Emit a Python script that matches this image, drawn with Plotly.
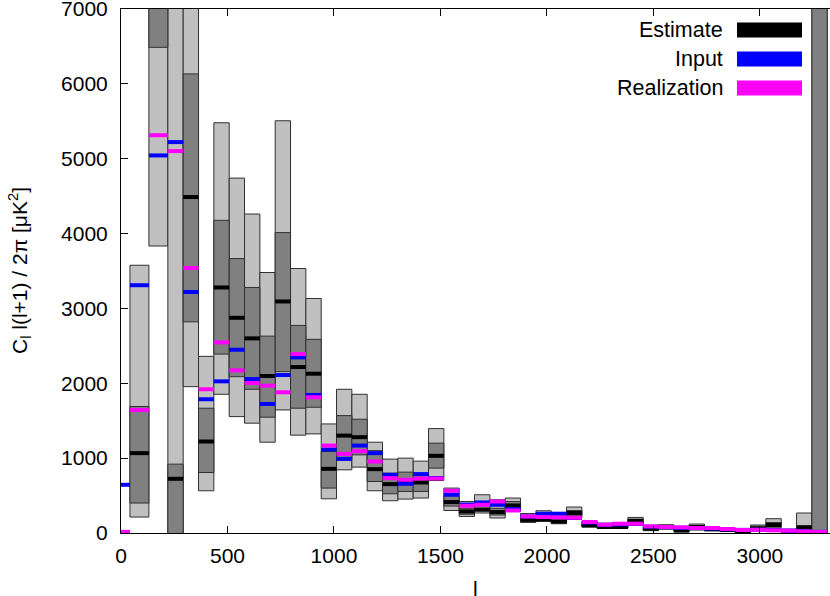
import plotly.graph_objects as go

# band edges in l (46 bands)
l_edges = [0, 42, 131, 220, 292, 364, 436, 508, 580, 652, 724, 796, 868, 940,
           1012, 1084, 1156, 1228, 1300, 1372, 1444, 1516, 1588, 1660, 1732,
           1804, 1876, 1948, 2020, 2092, 2164, 2236, 2308, 2380, 2452, 2524,
           2596, 2668, 2740, 2812, 2884, 2956, 3028, 3100, 3172, 3244, 3316]

estimate = [None, 1067, 8000, 724, 4488, 1222, 3280, 2875, 2600, 2097, 3093, 2217,
            2128, 857, 1301, 1280, 853, 653, 700, 675, 1031, 413, 288, 311, 280,
            368, 177, 177, 155, 267, 101, 80, 80, 164, 60, 80, 31, 80, 50, 40, 13,
            60, 107, 25, 70, None]
inp = [644, 3310, 5044, 5222, 3220, 1787, 2026, 2448, 2057, 1724, 2110, 2346, 1844,
       1115, 990, 1168, 1067, 777, 657, 787, 735, 511, 380, 408, 377, 320, 220, 257,
       257, 200, 140, 110, 115, 120, 85, 78, 70, 65, 60, 50, 42, 44, 40, 32, 25, 15]
realization = [15, 1644, 5314, 5102, 3541, 1920, 2546, 2173, 2004, 1968, 1880, 2390,
               1813, 1168, 1057, 1093, 955, 733, 711, 728, 728, 564, 364, 377, 421,
               301, 221, 213, 208, 204, 147, 111, 124, 124, 88, 80, 75, 67, 67, 53,
               40, 44, 36, 31, 22, 13]

# 1 sigma (dark) and 2 sigma (light) ranges
dark_lo = [None, 400, 6488, -300, 2821, 808, 2390, 2088, 1920, 1547, 2155, 1667, 1680,
           600, 977, 1044, 688, 524, 555, 555, 867, 360, 250, 300, 240, 330, 150, 170,
           130, 230, 90, 70, 70, 120, 40, 60, 25, 50, 40, 30, 5, 50, 90, 15, 60, -1000]
dark_hi = [None, 1690, 9000, 920, 6133, 1667, 4177, 3666, 3280, 2630, 4013, 2773, 2587,
           1088, 1568, 1520, 1100, 800, 813, 790, 1200, 500, 330, 420, 330, 420, 200,
           250, 200, 300, 130, 100, 110, 180, 80, 100, 60, 100, 70, 55, 40, 90, 140,
           40, 100, 9000]
light_lo = [None, 213, 3834, -600, 1955, 564, 1853, 1555, 1467, 1213, 1644, 1307, 1324,
            457, 844, 880, 564, 431, 453, 467, 701, 301, 221, 267, 200, 290, 141, 160,
            124, 200, 80, 60, 67, 100, 31, 50, 20, 40, 30, 20, 0, 40, 70, 10, 60, -2000]
light_hi = [None, 3577, 10000, 10000, 8000, 2360, 5480, 4741, 4261, 3480, 5507, 3533,
            3133, 1457, 1920, 1853, 1213, 987, 1000, 960, 1395, 600, 421, 511, 444, 467,
            260, 297, 275, 347, 160, 130, 140, 208, 100, 111, 80, 120, 80, 60, 50, 107,
            191, 50, 267, 10000]

x_ticks = [0, 500, 1000, 1500, 2000, 2500, 3000]
y_ticks = [0, 1000, 2000, 3000, 4000, 5000, 6000, 7000]

FONT = "Liberation Sans, Arial, Helvetica, sans-serif"

lo = l_edges[:-1]
hi = l_edges[1:]
centers = [(a + b) / 2 for a, b in zip(lo, hi)]
widths = [b - a for a, b in zip(lo, hi)]


def box_trace(blo, bhi, color):
    h = [(b - a) if a is not None else None for a, b in zip(blo, bhi)]
    return go.Bar(x=centers, y=h, base=blo, width=widths,
                  marker=dict(color=color, line=dict(color="#303030", width=1)),
                  showlegend=False, hoverinfo="skip")


def step_trace(vals, color):
    xs, ys = [], []
    for a, b, v in zip(lo, hi, vals):
        if v is None:
            continue
        xs += [a, b, None]
        ys += [v, v, None]
    return go.Scatter(x=xs, y=ys, mode="lines", line=dict(color=color, width=4),
                      showlegend=False, hoverinfo="skip")


fig = go.Figure()
fig.add_trace(box_trace(light_lo, light_hi, "#c0c0c0"))
fig.add_trace(box_trace(dark_lo, dark_hi, "#808080"))
fig.add_trace(step_trace(estimate, "#000000"))
fig.add_trace(step_trace(inp, "#0000ff"))
fig.add_trace(step_trace(realization, "#ff00ff"))

fig.update_layout(
    width=830, height=596,
    margin=dict(l=121, r=0, t=9, b=63),
    paper_bgcolor="white", plot_bgcolor="white",
    barmode="overlay",
    font=dict(family=FONT, size=21, color="black"),
    showlegend=False,
)
fig.update_xaxes(range=[0, 3329], tickvals=x_ticks, ticks="inside", ticklen=7,
                 tickcolor="black", showline=True, linecolor="black", linewidth=1,
                 mirror="ticks", showgrid=False, zeroline=False,
                 ticklabelstandoff=4, automargin=False)
fig.update_yaxes(range=[0, 7000], tickvals=y_ticks, ticks="inside", ticklen=7,
                 tickcolor="black", showline=True, linecolor="black", linewidth=1,
                 showgrid=False, zeroline=False, ticklabelstandoff=8,
                 ticklabeloverflow="allow", automargin=False)

# axis titles
fig.add_annotation(text="C<sub>l</sub> l(l+1) / 2π [μK<sup>2</sup>]", textangle=-90,
                   xref="paper", yref="paper", x=0, y=0.5, xanchor="center",
                   yanchor="middle", xshift=-102, showarrow=False,
                   font=dict(family=FONT, size=21))
fig.add_annotation(text="l", xref="paper", yref="paper", x=0.5, y=0,
                   xanchor="center", yanchor="top", yshift=-42, showarrow=False,
                   font=dict(family=FONT, size=21))

# key
key = [("Estimate", "#000000"), ("Input", "#0000ff"), ("Realization", "#ff00ff")]
for i, (name, col) in enumerate(key):
    yc = 1 - (21 + 29 * i) / 524
    fig.add_annotation(text=name, xref="paper", yref="paper", x=0.852, y=yc,
                       xanchor="right", yanchor="middle", showarrow=False,
                       font=dict(family=FONT, size=21.5))
    fig.add_shape(type="rect", xref="paper", yref="paper", x0=0.8688, x1=0.9605,
                  y0=yc - 7.5 / 524, y1=yc + 7.5 / 524, fillcolor=col,
                  line=dict(width=0), layer="above")

# drop the page's default body margin so the figure sits at the window corner
fig.write_html("out.html", config={"displayModeBar": False},
               post_script="document.body.style.margin = '0';")
